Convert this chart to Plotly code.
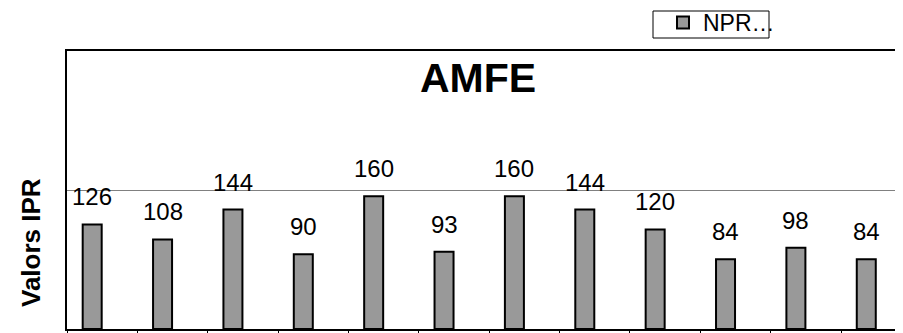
import plotly.graph_objects as go

categories = ["1", "2", "3", "4", "5", "6", "7", "8", "9", "10", "11", "12"]
npr_values = [126, 108, 144, 90, 160, 93, 160, 144, 120, 84, 98, 84]
series_name = "NPR…"
chart_title = "AMFE"
y_title = "Valors IPR"

# page body has an 8px margin; design in screen pixels and convert
OFF = 8
W, H = 903 - OFF, 333 - OFF
L = 67 - OFF
T = 51 - OFF
B = H - (329 - OFF)
plot_w = W - L
plot_h = H - T - B

BAR_W = 0.27
BAR_SHIFT = -0.142  # bar centre sits left of the category centre

def px_x(p):
    return (p - OFF - L) / plot_w

def px_y(p):
    return (H - B - (p - OFF)) / plot_h

x_range = [-0.5, 11.38]
unit_px = plot_w / (x_range[1] - x_range[0])

fig = go.Figure()
fig.add_trace(go.Bar(
    x=categories, y=npr_values, name=series_name, width=BAR_W,
    offset=BAR_SHIFT - BAR_W / 2,
    marker=dict(color="#999999", line=dict(color="black", width=2)),
    showlegend=True,
))

annotations = []
for i, v in enumerate(npr_values):
    annotations.append(dict(
        x=i, y=v, xref="x", yref="y", text=str(v), showarrow=False,
        yanchor="bottom", yshift=12, xshift=BAR_SHIFT * unit_px,
        font=dict(family="Liberation Sans, Arial", size=24, color="black"),
    ))
annotations.append(dict(
    x=px_x(478), y=px_y(78), xref="paper", yref="paper", text="<b>" + chart_title + "</b>",
    showarrow=False, xanchor="center", yanchor="middle",
    font=dict(family="Liberation Sans, Arial", size=41, color="black"),
))
annotations.append(dict(
    x=px_x(31), y=px_y(243), xref="paper", yref="paper", text="<b>" + y_title + "</b>",
    showarrow=False, xanchor="center", yanchor="middle", textangle=-90,
    font=dict(family="Liberation Sans, Arial", size=26, color="black"),
))

fig.update_layout(
    width=W, height=H,
    margin=dict(l=L, r=0, t=T, b=B, autoexpand=False),
    plot_bgcolor="white", paper_bgcolor="white",
    annotations=annotations,
    showlegend=True,
    legend=dict(
        x=px_x(663), y=px_y(22.5), xanchor="left", yanchor="middle",
        font=dict(family="Liberation Sans, Arial", size=23, color="black"),
        bgcolor="rgba(0,0,0,0)", borderwidth=0,
    ),
    shapes=[dict(
        type="rect", xref="paper", yref="paper",
        x0=px_x(653), x1=px_x(769), y0=px_y(38), y1=px_y(11),
        line=dict(color="black", width=1), fillcolor="rgba(0,0,0,0)", layer="below",
    )],
    xaxis=dict(
        type="category", range=x_range, showticklabels=False,
        ticks="outside", tickson="boundaries", ticklen=5, tickcolor="black", tickwidth=1,
        showline=True, linecolor="black", linewidth=2, mirror=True,
        showgrid=False, zeroline=False,
    ),
    yaxis=dict(
        range=[0, 335], tickvals=[167.5], showticklabels=False, ticks="",
        showline=True, linecolor="black", linewidth=2,
        showgrid=True, gridcolor="#808080", gridwidth=1, zeroline=False,
    ),
)

fig.write_html("out.html")
